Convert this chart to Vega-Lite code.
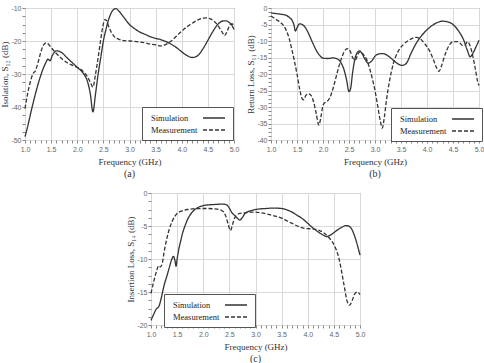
{
  "$schema": "https://vega.github.io/schema/vega-lite/v6.json",
  "background": "white",
  "padding": {"left": 0, "top": 3, "right": 0, "bottom": 0},
  "config": {
    "view": {"stroke": "#8c8c8c", "strokeWidth": 1},
    "axis": {
      "labelFont": "Liberation Sans", "labelFontSize": 7, "labelColor": "#666",
      "titleFont": "Liberation Serif", "titleFontSize": 9, "titleFontWeight": "normal", "titleColor": "#333",
      "domain": false, "tickColor": "#888", "tickSize": 3, "gridColor": "#d9d9d9",
      "labelOverlap": false, "labelFlush": false, "labelPadding": 2
    },
    "axisX": {"titlePadding": 5},
    "axisY": {"titlePadding": 1, "labelPadding": 1},
    "title": {"orient": "bottom", "font": "Liberation Serif", "fontSize": 10, "fontWeight": "normal", "color": "#333", "offset": 3, "anchor": "middle", "frame": "group"},
    "legend": {
      "title": null, "orient": "none", "symbolType": "M10,0H14.4", "symbolSize": 100, "symbolStrokeWidth": 1.3,
      "symbolStrokeColor": "#333", "symbolFillColor": "transparent", "labelFont": "Liberation Serif", "labelFontSize": 8.5, "labelColor": "#222",
      "strokeColor": "#555", "fillColor": "white", "padding": 5, "rowPadding": 1, "labelOffset": -8
    }
  },
  "datasets": {
    "a": [
      {"f":1.0,"db":-49,"s":"Simulation"},{"f":1.05,"db":-46,"s":"Simulation"},{"f":1.1,"db":-42.5,"s":"Simulation"},{"f":1.2,"db":-36,"s":"Simulation"},{"f":1.3,"db":-30.5,"s":"Simulation"},{"f":1.4,"db":-26.5,"s":"Simulation"},{"f":1.44,"db":-25.5,"s":"Simulation"},{"f":1.48,"db":-26,"s":"Simulation"},{"f":1.52,"db":-24.5,"s":"Simulation"},{"f":1.6,"db":-23,"s":"Simulation"},{"f":1.7,"db":-23.5,"s":"Simulation"},{"f":1.8,"db":-25,"s":"Simulation"},{"f":1.9,"db":-26.5,"s":"Simulation"},{"f":2.0,"db":-28,"s":"Simulation"},{"f":2.1,"db":-29.5,"s":"Simulation"},{"f":2.2,"db":-32.5,"s":"Simulation"},{"f":2.25,"db":-36,"s":"Simulation"},{"f":2.3,"db":-41.5,"s":"Simulation"},{"f":2.35,"db":-36,"s":"Simulation"},{"f":2.4,"db":-30,"s":"Simulation"},{"f":2.45,"db":-25,"s":"Simulation"},{"f":2.5,"db":-20,"s":"Simulation"},{"f":2.55,"db":-16.5,"s":"Simulation"},{"f":2.6,"db":-13.5,"s":"Simulation"},{"f":2.65,"db":-11.5,"s":"Simulation"},{"f":2.7,"db":-10.4,"s":"Simulation"},{"f":2.74,"db":-10.2,"s":"Simulation"},{"f":2.8,"db":-11,"s":"Simulation"},{"f":2.9,"db":-13,"s":"Simulation"},{"f":3.0,"db":-15,"s":"Simulation"},{"f":3.1,"db":-16.3,"s":"Simulation"},{"f":3.2,"db":-17.3,"s":"Simulation"},{"f":3.3,"db":-18,"s":"Simulation"},{"f":3.4,"db":-18.7,"s":"Simulation"},{"f":3.5,"db":-19.2,"s":"Simulation"},{"f":3.6,"db":-19.6,"s":"Simulation"},{"f":3.7,"db":-20.2,"s":"Simulation"},{"f":3.8,"db":-21,"s":"Simulation"},{"f":3.9,"db":-22,"s":"Simulation"},{"f":4.0,"db":-23.3,"s":"Simulation"},{"f":4.1,"db":-24.4,"s":"Simulation"},{"f":4.2,"db":-25,"s":"Simulation"},{"f":4.3,"db":-24.5,"s":"Simulation"},{"f":4.4,"db":-22.5,"s":"Simulation"},{"f":4.5,"db":-19.8,"s":"Simulation"},{"f":4.6,"db":-17,"s":"Simulation"},{"f":4.7,"db":-14.8,"s":"Simulation"},{"f":4.8,"db":-13.9,"s":"Simulation"},{"f":4.85,"db":-13.9,"s":"Simulation"},{"f":4.9,"db":-14.3,"s":"Simulation"},{"f":4.95,"db":-15,"s":"Simulation"},{"f":5.0,"db":-16.5,"s":"Simulation"},
      {"f":1.0,"db":-40.5,"s":"Measurement"},{"f":1.05,"db":-36,"s":"Measurement"},{"f":1.1,"db":-32.5,"s":"Measurement"},{"f":1.15,"db":-30,"s":"Measurement"},{"f":1.2,"db":-29,"s":"Measurement"},{"f":1.25,"db":-26.5,"s":"Measurement"},{"f":1.3,"db":-23.5,"s":"Measurement"},{"f":1.35,"db":-21.3,"s":"Measurement"},{"f":1.4,"db":-20.6,"s":"Measurement"},{"f":1.45,"db":-21,"s":"Measurement"},{"f":1.5,"db":-22,"s":"Measurement"},{"f":1.6,"db":-23.8,"s":"Measurement"},{"f":1.7,"db":-25.3,"s":"Measurement"},{"f":1.8,"db":-26.5,"s":"Measurement"},{"f":1.9,"db":-27.3,"s":"Measurement"},{"f":2.0,"db":-28,"s":"Measurement"},{"f":2.1,"db":-29,"s":"Measurement"},{"f":2.2,"db":-31,"s":"Measurement"},{"f":2.25,"db":-32.5,"s":"Measurement"},{"f":2.3,"db":-34,"s":"Measurement"},{"f":2.35,"db":-30,"s":"Measurement"},{"f":2.4,"db":-25,"s":"Measurement"},{"f":2.45,"db":-19.5,"s":"Measurement"},{"f":2.5,"db":-14.8,"s":"Measurement"},{"f":2.53,"db":-13.5,"s":"Measurement"},{"f":2.56,"db":-13.8,"s":"Measurement"},{"f":2.6,"db":-15.5,"s":"Measurement"},{"f":2.65,"db":-17.3,"s":"Measurement"},{"f":2.7,"db":-18.5,"s":"Measurement"},{"f":2.8,"db":-19.5,"s":"Measurement"},{"f":2.9,"db":-19.9,"s":"Measurement"},{"f":3.0,"db":-20,"s":"Measurement"},{"f":3.2,"db":-20.3,"s":"Measurement"},{"f":3.4,"db":-20.9,"s":"Measurement"},{"f":3.5,"db":-21.2,"s":"Measurement"},{"f":3.6,"db":-21.5,"s":"Measurement"},{"f":3.7,"db":-21,"s":"Measurement"},{"f":3.8,"db":-20,"s":"Measurement"},{"f":3.9,"db":-18.5,"s":"Measurement"},{"f":4.0,"db":-17,"s":"Measurement"},{"f":4.1,"db":-15.7,"s":"Measurement"},{"f":4.2,"db":-14.6,"s":"Measurement"},{"f":4.3,"db":-13.7,"s":"Measurement"},{"f":4.4,"db":-13.1,"s":"Measurement"},{"f":4.47,"db":-13,"s":"Measurement"},{"f":4.55,"db":-13.3,"s":"Measurement"},{"f":4.65,"db":-14.5,"s":"Measurement"},{"f":4.72,"db":-16,"s":"Measurement"},{"f":4.78,"db":-17.5,"s":"Measurement"},{"f":4.82,"db":-18.4,"s":"Measurement"},{"f":4.87,"db":-17,"s":"Measurement"},{"f":4.93,"db":-15,"s":"Measurement"},{"f":4.97,"db":-14.8,"s":"Measurement"},{"f":5.0,"db":-15.5,"s":"Measurement"}
    ],
    "b": [
      {"f":1.0,"db":-1.5,"s":"Simulation"},{"f":1.1,"db":-1.7,"s":"Simulation"},{"f":1.2,"db":-1.9,"s":"Simulation"},{"f":1.3,"db":-2.3,"s":"Simulation"},{"f":1.35,"db":-2.8,"s":"Simulation"},{"f":1.4,"db":-3.6,"s":"Simulation"},{"f":1.44,"db":-5,"s":"Simulation"},{"f":1.47,"db":-7,"s":"Simulation"},{"f":1.5,"db":-6,"s":"Simulation"},{"f":1.55,"db":-4.8,"s":"Simulation"},{"f":1.6,"db":-5,"s":"Simulation"},{"f":1.65,"db":-5.7,"s":"Simulation"},{"f":1.7,"db":-7,"s":"Simulation"},{"f":1.75,"db":-8.7,"s":"Simulation"},{"f":1.8,"db":-10.5,"s":"Simulation"},{"f":1.85,"db":-12.2,"s":"Simulation"},{"f":1.9,"db":-13.6,"s":"Simulation"},{"f":1.95,"db":-14.6,"s":"Simulation"},{"f":2.0,"db":-15.2,"s":"Simulation"},{"f":2.1,"db":-15.3,"s":"Simulation"},{"f":2.2,"db":-15.1,"s":"Simulation"},{"f":2.3,"db":-15.7,"s":"Simulation"},{"f":2.35,"db":-16.7,"s":"Simulation"},{"f":2.4,"db":-18.5,"s":"Simulation"},{"f":2.45,"db":-21.5,"s":"Simulation"},{"f":2.5,"db":-25.3,"s":"Simulation"},{"f":2.53,"db":-24.5,"s":"Simulation"},{"f":2.57,"db":-19.5,"s":"Simulation"},{"f":2.62,"db":-15,"s":"Simulation"},{"f":2.67,"db":-13.3,"s":"Simulation"},{"f":2.7,"db":-13,"s":"Simulation"},{"f":2.75,"db":-13.8,"s":"Simulation"},{"f":2.8,"db":-15.3,"s":"Simulation"},{"f":2.87,"db":-16.7,"s":"Simulation"},{"f":2.95,"db":-15.8,"s":"Simulation"},{"f":3.0,"db":-14.6,"s":"Simulation"},{"f":3.08,"db":-13.9,"s":"Simulation"},{"f":3.15,"db":-13.8,"s":"Simulation"},{"f":3.25,"db":-14.5,"s":"Simulation"},{"f":3.35,"db":-15.8,"s":"Simulation"},{"f":3.45,"db":-17,"s":"Simulation"},{"f":3.52,"db":-17.4,"s":"Simulation"},{"f":3.6,"db":-16.8,"s":"Simulation"},{"f":3.7,"db":-13.5,"s":"Simulation"},{"f":3.8,"db":-10.5,"s":"Simulation"},{"f":3.9,"db":-8.3,"s":"Simulation"},{"f":4.0,"db":-6.6,"s":"Simulation"},{"f":4.1,"db":-5.3,"s":"Simulation"},{"f":4.2,"db":-4.4,"s":"Simulation"},{"f":4.3,"db":-4.0,"s":"Simulation"},{"f":4.4,"db":-4.2,"s":"Simulation"},{"f":4.5,"db":-5,"s":"Simulation"},{"f":4.6,"db":-6.8,"s":"Simulation"},{"f":4.7,"db":-9.5,"s":"Simulation"},{"f":4.78,"db":-13,"s":"Simulation"},{"f":4.83,"db":-14.8,"s":"Simulation"},{"f":4.88,"db":-13.8,"s":"Simulation"},{"f":4.95,"db":-11.5,"s":"Simulation"},{"f":5.0,"db":-9.8,"s":"Simulation"},
      {"f":1.0,"db":-2.4,"s":"Measurement"},{"f":1.1,"db":-3.5,"s":"Measurement"},{"f":1.2,"db":-4.6,"s":"Measurement"},{"f":1.25,"db":-5.5,"s":"Measurement"},{"f":1.3,"db":-7,"s":"Measurement"},{"f":1.35,"db":-9.3,"s":"Measurement"},{"f":1.4,"db":-12.5,"s":"Measurement"},{"f":1.45,"db":-16,"s":"Measurement"},{"f":1.5,"db":-20,"s":"Measurement"},{"f":1.55,"db":-24.5,"s":"Measurement"},{"f":1.6,"db":-27.5,"s":"Measurement"},{"f":1.63,"db":-27.8,"s":"Measurement"},{"f":1.67,"db":-26.5,"s":"Measurement"},{"f":1.72,"db":-26,"s":"Measurement"},{"f":1.77,"db":-26.5,"s":"Measurement"},{"f":1.82,"db":-28.5,"s":"Measurement"},{"f":1.87,"db":-32,"s":"Measurement"},{"f":1.92,"db":-35.5,"s":"Measurement"},{"f":1.96,"db":-33,"s":"Measurement"},{"f":2.0,"db":-29.5,"s":"Measurement"},{"f":2.05,"db":-28.5,"s":"Measurement"},{"f":2.1,"db":-28,"s":"Measurement"},{"f":2.15,"db":-26.5,"s":"Measurement"},{"f":2.2,"db":-24,"s":"Measurement"},{"f":2.25,"db":-21,"s":"Measurement"},{"f":2.3,"db":-18,"s":"Measurement"},{"f":2.35,"db":-15.5,"s":"Measurement"},{"f":2.4,"db":-13.5,"s":"Measurement"},{"f":2.47,"db":-12.3,"s":"Measurement"},{"f":2.52,"db":-13,"s":"Measurement"},{"f":2.57,"db":-15,"s":"Measurement"},{"f":2.62,"db":-15.8,"s":"Measurement"},{"f":2.67,"db":-14,"s":"Measurement"},{"f":2.72,"db":-13.2,"s":"Measurement"},{"f":2.77,"db":-14,"s":"Measurement"},{"f":2.85,"db":-16,"s":"Measurement"},{"f":2.9,"db":-18.5,"s":"Measurement"},{"f":2.95,"db":-21.5,"s":"Measurement"},{"f":3.0,"db":-25,"s":"Measurement"},{"f":3.05,"db":-29.5,"s":"Measurement"},{"f":3.1,"db":-34,"s":"Measurement"},{"f":3.14,"db":-36.4,"s":"Measurement"},{"f":3.18,"db":-33,"s":"Measurement"},{"f":3.22,"db":-28,"s":"Measurement"},{"f":3.28,"db":-22,"s":"Measurement"},{"f":3.35,"db":-17,"s":"Measurement"},{"f":3.45,"db":-13,"s":"Measurement"},{"f":3.55,"db":-11,"s":"Measurement"},{"f":3.65,"db":-9.8,"s":"Measurement"},{"f":3.75,"db":-9,"s":"Measurement"},{"f":3.8,"db":-8.9,"s":"Measurement"},{"f":3.88,"db":-9.5,"s":"Measurement"},{"f":3.95,"db":-10.7,"s":"Measurement"},{"f":4.05,"db":-13,"s":"Measurement"},{"f":4.12,"db":-15.5,"s":"Measurement"},{"f":4.18,"db":-18,"s":"Measurement"},{"f":4.23,"db":-19.2,"s":"Measurement"},{"f":4.28,"db":-17.5,"s":"Measurement"},{"f":4.35,"db":-14,"s":"Measurement"},{"f":4.42,"db":-11.5,"s":"Measurement"},{"f":4.5,"db":-10.2,"s":"Measurement"},{"f":4.6,"db":-10.2,"s":"Measurement"},{"f":4.68,"db":-11.3,"s":"Measurement"},{"f":4.73,"db":-11.2,"s":"Measurement"},{"f":4.78,"db":-10.2,"s":"Measurement"},{"f":4.83,"db":-11.5,"s":"Measurement"},{"f":4.88,"db":-14.5,"s":"Measurement"},{"f":4.93,"db":-18.5,"s":"Measurement"},{"f":4.97,"db":-22,"s":"Measurement"},{"f":5.0,"db":-23.5,"s":"Measurement"}
    ],
    "c": [
      {"f":1.0,"db":-19.3,"s":"Simulation"},{"f":1.05,"db":-18.4,"s":"Simulation"},{"f":1.1,"db":-17.6,"s":"Simulation"},{"f":1.15,"db":-17.2,"s":"Simulation"},{"f":1.2,"db":-15.8,"s":"Simulation"},{"f":1.25,"db":-14,"s":"Simulation"},{"f":1.3,"db":-12.7,"s":"Simulation"},{"f":1.35,"db":-11.3,"s":"Simulation"},{"f":1.4,"db":-10,"s":"Simulation"},{"f":1.43,"db":-9.6,"s":"Simulation"},{"f":1.46,"db":-10.3,"s":"Simulation"},{"f":1.48,"db":-11.1,"s":"Simulation"},{"f":1.5,"db":-10,"s":"Simulation"},{"f":1.53,"db":-8.6,"s":"Simulation"},{"f":1.57,"db":-7.2,"s":"Simulation"},{"f":1.6,"db":-6.2,"s":"Simulation"},{"f":1.65,"db":-5,"s":"Simulation"},{"f":1.7,"db":-4,"s":"Simulation"},{"f":1.75,"db":-3.3,"s":"Simulation"},{"f":1.8,"db":-2.8,"s":"Simulation"},{"f":1.9,"db":-2.2,"s":"Simulation"},{"f":2.0,"db":-1.9,"s":"Simulation"},{"f":2.1,"db":-1.8,"s":"Simulation"},{"f":2.2,"db":-1.75,"s":"Simulation"},{"f":2.3,"db":-1.7,"s":"Simulation"},{"f":2.4,"db":-1.7,"s":"Simulation"},{"f":2.45,"db":-1.8,"s":"Simulation"},{"f":2.5,"db":-2.3,"s":"Simulation"},{"f":2.55,"db":-3,"s":"Simulation"},{"f":2.6,"db":-3.4,"s":"Simulation"},{"f":2.65,"db":-3.8,"s":"Simulation"},{"f":2.7,"db":-4.1,"s":"Simulation"},{"f":2.75,"db":-3.7,"s":"Simulation"},{"f":2.8,"db":-3.1,"s":"Simulation"},{"f":2.9,"db":-2.7,"s":"Simulation"},{"f":3.0,"db":-2.5,"s":"Simulation"},{"f":3.1,"db":-2.4,"s":"Simulation"},{"f":3.2,"db":-2.35,"s":"Simulation"},{"f":3.3,"db":-2.3,"s":"Simulation"},{"f":3.4,"db":-2.3,"s":"Simulation"},{"f":3.5,"db":-2.35,"s":"Simulation"},{"f":3.6,"db":-2.55,"s":"Simulation"},{"f":3.7,"db":-2.9,"s":"Simulation"},{"f":3.8,"db":-3.4,"s":"Simulation"},{"f":3.9,"db":-3.9,"s":"Simulation"},{"f":4.0,"db":-4.6,"s":"Simulation"},{"f":4.1,"db":-5.3,"s":"Simulation"},{"f":4.2,"db":-5.9,"s":"Simulation"},{"f":4.3,"db":-6.4,"s":"Simulation"},{"f":4.36,"db":-6.6,"s":"Simulation"},{"f":4.45,"db":-6.3,"s":"Simulation"},{"f":4.55,"db":-5.7,"s":"Simulation"},{"f":4.65,"db":-5.2,"s":"Simulation"},{"f":4.72,"db":-4.95,"s":"Simulation"},{"f":4.78,"db":-5,"s":"Simulation"},{"f":4.85,"db":-5.6,"s":"Simulation"},{"f":4.9,"db":-6.6,"s":"Simulation"},{"f":4.95,"db":-7.9,"s":"Simulation"},{"f":5.0,"db":-9.4,"s":"Simulation"},
      {"f":1.0,"db":-15.2,"s":"Measurement"},{"f":1.05,"db":-13.5,"s":"Measurement"},{"f":1.1,"db":-12,"s":"Measurement"},{"f":1.15,"db":-11,"s":"Measurement"},{"f":1.18,"db":-11.2,"s":"Measurement"},{"f":1.22,"db":-10.5,"s":"Measurement"},{"f":1.25,"db":-9,"s":"Measurement"},{"f":1.3,"db":-7,"s":"Measurement"},{"f":1.35,"db":-5.5,"s":"Measurement"},{"f":1.4,"db":-4.4,"s":"Measurement"},{"f":1.45,"db":-3.6,"s":"Measurement"},{"f":1.5,"db":-3.1,"s":"Measurement"},{"f":1.6,"db":-2.7,"s":"Measurement"},{"f":1.7,"db":-2.5,"s":"Measurement"},{"f":1.8,"db":-2.4,"s":"Measurement"},{"f":2.0,"db":-2.35,"s":"Measurement"},{"f":2.1,"db":-2.35,"s":"Measurement"},{"f":2.2,"db":-2.4,"s":"Measurement"},{"f":2.3,"db":-2.5,"s":"Measurement"},{"f":2.38,"db":-2.8,"s":"Measurement"},{"f":2.43,"db":-3.5,"s":"Measurement"},{"f":2.48,"db":-4.8,"s":"Measurement"},{"f":2.52,"db":-5.7,"s":"Measurement"},{"f":2.56,"db":-4.8,"s":"Measurement"},{"f":2.6,"db":-3.8,"s":"Measurement"},{"f":2.65,"db":-3.3,"s":"Measurement"},{"f":2.7,"db":-3.1,"s":"Measurement"},{"f":2.8,"db":-3,"s":"Measurement"},{"f":2.9,"db":-2.9,"s":"Measurement"},{"f":3.0,"db":-2.9,"s":"Measurement"},{"f":3.1,"db":-3,"s":"Measurement"},{"f":3.2,"db":-3.15,"s":"Measurement"},{"f":3.3,"db":-3.35,"s":"Measurement"},{"f":3.4,"db":-3.55,"s":"Measurement"},{"f":3.5,"db":-3.8,"s":"Measurement"},{"f":3.6,"db":-4.2,"s":"Measurement"},{"f":3.7,"db":-4.6,"s":"Measurement"},{"f":3.8,"db":-5,"s":"Measurement"},{"f":3.9,"db":-5.3,"s":"Measurement"},{"f":4.0,"db":-5.4,"s":"Measurement"},{"f":4.1,"db":-5.45,"s":"Measurement"},{"f":4.2,"db":-5.6,"s":"Measurement"},{"f":4.3,"db":-6,"s":"Measurement"},{"f":4.4,"db":-6.7,"s":"Measurement"},{"f":4.5,"db":-7.8,"s":"Measurement"},{"f":4.55,"db":-8.7,"s":"Measurement"},{"f":4.6,"db":-10,"s":"Measurement"},{"f":4.65,"db":-12,"s":"Measurement"},{"f":4.7,"db":-14.2,"s":"Measurement"},{"f":4.75,"db":-16.3,"s":"Measurement"},{"f":4.8,"db":-17,"s":"Measurement"},{"f":4.85,"db":-16.3,"s":"Measurement"},{"f":4.9,"db":-15.3,"s":"Measurement"},{"f":4.95,"db":-15,"s":"Measurement"},{"f":5.0,"db":-15.4,"s":"Measurement"}
    ]
  },
  "spacing": 8,
  "resolve": {"scale": {"strokeDash": "independent"}},
  "vconcat": [
    {
      "hconcat": [
        {
          "width": 209, "height": 132,
          "data": {"name": "a"},
          "title": {"text": "(a)"},
          "mark": {"type": "line", "interpolate": "monotone", "strokeWidth": 1.3, "color": "#333"},
          "encoding": {
            "x": {"field": "f", "type": "quantitative", "scale": {"domain": [1, 5], "nice": false, "zero": false},
              "axis": {"title": "Frequency (GHz)", "values": [1,1.1,1.2,1.3,1.4,1.5,1.6,1.7,1.8,1.9,2,2.1,2.2,2.3,2.4,2.5,2.6,2.7,2.8,2.9,3,3.1,3.2,3.3,3.4,3.5,3.6,3.7,3.8,3.9,4,4.1,4.2,4.3,4.4,4.5,4.6,4.7,4.8,4.9,5],
                "labelExpr": "abs(datum.value*2 - round(datum.value*2)) < 0.001 ? format(datum.value, '.1f') : ''",
                "gridOpacity": {"condition": {"test": "abs(datum.value*2 - round(datum.value*2)) > 0.001", "value": 0}, "value": 1}}},
            "y": {"field": "db", "type": "quantitative", "scale": {"domain": [-50, -10], "nice": false, "zero": false},
              "axis": {"title": "Isolation, S₁₂ (dB)", "values": [-50,-47.5,-45,-42.5,-40,-37.5,-35,-32.5,-30,-27.5,-25,-22.5,-20,-17.5,-15,-12.5,-10],
                "labelExpr": "datum.value % 10 == 0 ? datum.value + '' : ''",
                "gridOpacity": {"condition": {"test": "datum.value % 10 != 0", "value": 0}, "value": 1}}},
            "strokeDash": {"field": "s", "type": "nominal", "scale": {"domain": ["Simulation", "Measurement"], "range": [[1, 0], [4, 2]]},
              "legend": {"legendX": 117, "legendY": 99}}
          }
        },
        {
          "width": 208, "height": 132,
          "data": {"name": "b"},
          "title": {"text": "(b)"},
          "mark": {"type": "line", "interpolate": "monotone", "strokeWidth": 1.3, "color": "#333"},
          "encoding": {
            "x": {"field": "f", "type": "quantitative", "scale": {"domain": [1, 5], "nice": false, "zero": false},
              "axis": {"title": "Frequency (GHz)", "values": [1,1.1,1.2,1.3,1.4,1.5,1.6,1.7,1.8,1.9,2,2.1,2.2,2.3,2.4,2.5,2.6,2.7,2.8,2.9,3,3.1,3.2,3.3,3.4,3.5,3.6,3.7,3.8,3.9,4,4.1,4.2,4.3,4.4,4.5,4.6,4.7,4.8,4.9,5],
                "labelExpr": "abs(datum.value*2 - round(datum.value*2)) < 0.001 ? format(datum.value, '.1f') : ''",
                "gridOpacity": {"condition": {"test": "abs(datum.value*2 - round(datum.value*2)) > 0.001", "value": 0}, "value": 1}}},
            "y": {"field": "db", "type": "quantitative", "scale": {"domain": [-40, 0], "nice": false, "zero": false},
              "axis": {"title": "Return Loss, S₁₁ (dB)", "values": [-40,-38.75,-37.5,-36.25,-35,-33.75,-32.5,-31.25,-30,-28.75,-27.5,-26.25,-25,-23.75,-22.5,-21.25,-20,-18.75,-17.5,-16.25,-15,-13.75,-12.5,-11.25,-10,-8.75,-7.5,-6.25,-5,-3.75,-2.5,-1.25,0],
                "labelExpr": "datum.value % 5 == 0 ? datum.value + '' : ''",
                "gridOpacity": {"condition": {"test": "datum.value % 5 != 0", "value": 0}, "value": 1}}},
            "strokeDash": {"field": "s", "type": "nominal", "scale": {"domain": ["Simulation", "Measurement"], "range": [[1, 0], [4, 2]]},
              "legend": {"legendX": 120, "legendY": 100}}
          }
        }
      ],
      "spacing": 37, "bounds": "flush",
      "resolve": {"scale": {"strokeDash": "independent"}}
    },
    {
      "hconcat": [
        {
          "width": 126, "height": 20,
          "view": {"stroke": null},
          "data": {"values": [{}]},
          "mark": {"type": "point", "opacity": 0},
          "encoding": {}
        },
        {
          "width": 209, "height": 132,
          "data": {"name": "c"},
          "title": {"text": "(c)"},
          "mark": {"type": "line", "interpolate": "monotone", "strokeWidth": 1.3, "color": "#333"},
          "encoding": {
            "x": {"field": "f", "type": "quantitative", "scale": {"domain": [1, 5], "nice": false, "zero": false},
              "axis": {"title": "Frequency (GHz)", "values": [1,1.1,1.2,1.3,1.4,1.5,1.6,1.7,1.8,1.9,2,2.1,2.2,2.3,2.4,2.5,2.6,2.7,2.8,2.9,3,3.1,3.2,3.3,3.4,3.5,3.6,3.7,3.8,3.9,4,4.1,4.2,4.3,4.4,4.5,4.6,4.7,4.8,4.9,5],
                "labelExpr": "abs(datum.value*2 - round(datum.value*2)) < 0.001 ? format(datum.value, '.1f') : ''",
                "gridOpacity": {"condition": {"test": "abs(datum.value*2 - round(datum.value*2)) > 0.001", "value": 0}, "value": 1}}},
            "y": {"field": "db", "type": "quantitative", "scale": {"domain": [-20, 0], "nice": false, "zero": false},
              "axis": {"title": "Insertion Loss, S₁₄ (dB)", "values": [-20,-18.75,-17.5,-16.25,-15,-13.75,-12.5,-11.25,-10,-8.75,-7.5,-6.25,-5,-3.75,-2.5,-1.25,0],
                "labelExpr": "datum.value % 5 == 0 ? datum.value + '' : ''",
                "gridOpacity": {"condition": {"test": "datum.value % 5 != 0", "value": 0}, "value": 1}}},
            "strokeDash": {"field": "s", "type": "nominal", "scale": {"domain": ["Simulation", "Measurement"], "range": [[1, 0], [4, 2]]},
              "legend": {"legendX": 13, "legendY": 101}}
          }
        }
      ],
      "spacing": 0, "bounds": "flush",
      "resolve": {"scale": {"strokeDash": "independent"}}
    }
  ]
}
